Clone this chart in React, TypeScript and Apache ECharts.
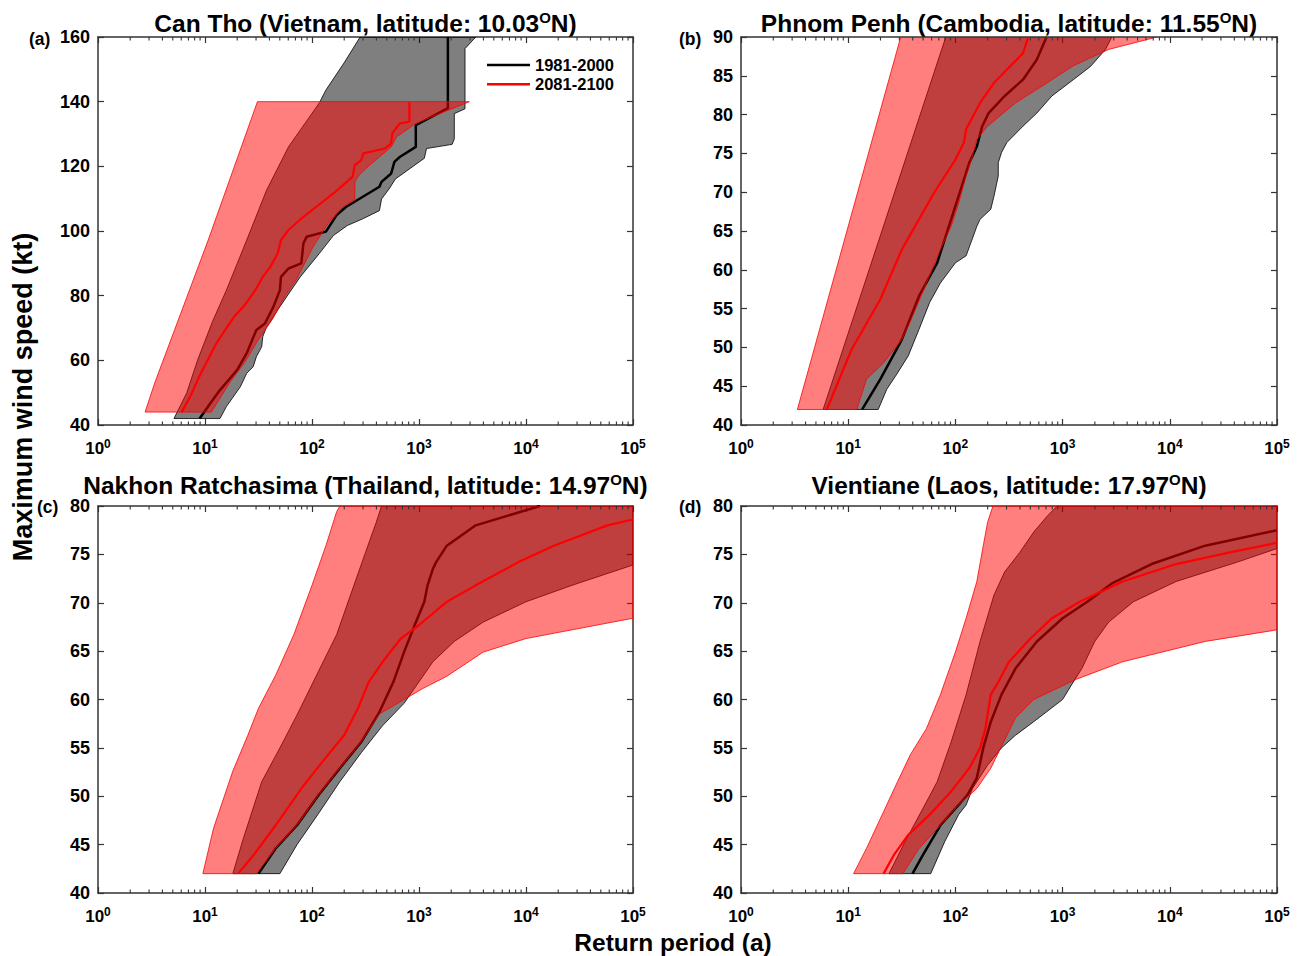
import { useEffect, useRef } from "react";
import * as echarts from "echarts";

const FONT = '"Liberation Sans", Arial, Helvetica, sans-serif';
const AXIS_COLOR = "#333333";
const HIST_LINE = "#000000";
const FUT_LINE = "#ff0000";
const HIST_FILL = "rgba(0,0,0,0.5)";
const FUT_FILL = "rgba(255,0,0,0.5)";

const SERIES_NAMES = ["1981-2000", "2081-2100"];
const X_AXIS_TITLE = "Return period (a)";
const Y_AXIS_TITLE = "Maximum wind speed (kt)";

// Each pair: [log10(return period in years), maximum wind speed (kt)]
// (a) Can Tho
const canThoHistLower = [[0.71, 42], [0.83, 50], [0.93, 60], [1.07, 72], [1.2, 81.7], [1.39, 97.2], [1.575, 112.6], [1.78, 126], [2.07, 139.7], [2.13, 143.6], [2.3, 152], [2.45, 160]];
const canThoHistUpper = [[1.14, 42], [1.2, 45.7], [1.33, 51.8], [1.39, 56], [1.45, 58], [1.48, 61.1], [1.53, 64.2], [1.54, 67.3], [1.57, 69.9], [1.7, 76.6], [1.89, 85.8], [2.07, 93.1], [2.2, 98.6], [2.33, 101.7], [2.47, 103.7], [2.63, 106.3], [2.65, 109.9], [2.72, 113], [2.78, 116.1], [3.05, 122.5], [3.07, 125.5], [3.31, 126.8], [3.33, 128.5], [3.33, 136.3], [3.43, 137.8], [3.43, 156.4], [3.53, 160]];
const canThoFutLower = [[0.44, 44], [0.53, 53], [1.03, 97.2], [1.49, 140]];
const canThoFutUpper = [[1.06, 44], [1.23, 53.1], [1.37, 59.3], [1.5, 66.5], [1.63, 72.7], [1.75, 80], [1.85, 84.8], [2.01, 95.1], [2.15, 102.3], [2.29, 107.5], [2.4, 109.6], [2.4, 115.2], [2.44, 117.3], [2.54, 120.4], [2.74, 126], [2.79, 129.1], [2.97, 133.3], [3.47, 140]];
const canThoHistMedian = [[0.95, 42], [1.05, 46.7], [1.14, 50.8], [1.3, 57], [1.39, 62.2], [1.48, 69.4], [1.56, 71.4], [1.64, 76.6], [1.7, 81.7], [1.71, 85.8], [1.78, 88.4], [1.9, 90], [1.92, 96.2], [1.95, 98.2], [2.13, 99.8], [2.23, 104.9], [2.32, 107.5], [2.63, 113.7], [2.65, 115.2], [2.74, 117.8], [2.77, 121.4], [2.82, 122.9], [2.97, 126], [2.97, 132.7], [3.27, 138], [3.27, 160]];
const canThoFutMedian = [[0.78, 43.9], [0.86, 48.7], [0.94, 54.5], [1.03, 60.4], [1.11, 65.5], [1.2, 70], [1.28, 73.8], [1.37, 77], [1.47, 81.7], [1.54, 85.8], [1.61, 88.9], [1.68, 93.1], [1.71, 97.2], [1.78, 100.3], [1.92, 104.4], [2.04, 107.5], [2.2, 111.6], [2.29, 114.2], [2.38, 116.8], [2.4, 120.4], [2.46, 121.9], [2.48, 124], [2.68, 125.5], [2.74, 127.1], [2.75, 130.2], [2.82, 133.3], [2.91, 133.8], [2.91, 140]];

// (b) Phnom Penh
const phnomPenhHistLower = [[0.766, 42], [1.91, 90]];
const phnomPenhHistUpper = [[1.28, 42], [1.36, 44.6], [1.46, 46.7], [1.56, 48.9], [1.66, 52.3], [1.76, 55.8], [1.86, 58.3], [2.0, 60.9], [2.1, 61.8], [2.2, 65.6], [2.23, 66.5], [2.33, 67.8], [2.36, 69.5], [2.4, 72.1], [2.4, 73.8], [2.43, 75.1], [2.48, 76.4], [2.63, 78.5], [2.76, 80.2], [2.9, 82.4], [3.1, 84.5], [3.26, 86.2], [3.4, 88.4], [3.46, 90]];
const phnomPenhFutLower = [[0.526, 42], [1.49, 90]];
const phnomPenhFutUpper = [[1.08, 42], [1.17, 45.9], [1.33, 48], [1.5, 51], [1.6, 54], [1.73, 58.3], [1.86, 62.6], [1.96, 65.6], [2.03, 68.6], [2.1, 72.1], [2.15, 74.2], [2.2, 76.8], [2.3, 78.5], [2.56, 81.5], [2.8, 83.6], [3.1, 86.3], [3.43, 88.4], [3.88, 90]];
const phnomPenhHistMedian = [[1.13, 42], [1.3, 45.9], [1.5, 51], [1.66, 56.6], [1.83, 60.9], [1.93, 65.2], [2.03, 69.5], [2.13, 73.8], [2.2, 75.9], [2.25, 78.5], [2.31, 80.2], [2.46, 82.4], [2.63, 84.5], [2.76, 87.1], [2.85, 90]];
const phnomPenhFutMedian = [[0.8, 42], [1.03, 49.7], [1.3, 56.2], [1.5, 62.6], [1.8, 69.9], [2.0, 74.2], [2.08, 76.4], [2.1, 78.1], [2.23, 81.5], [2.36, 84.1], [2.63, 87.9], [2.68, 90]];

// (c) Nakhon Ratchasima
const nakhonHistLower = [[1.26, 42], [1.36, 45.7], [1.53, 51.5], [1.7, 55], [1.86, 58.4], [2.06, 62.9], [2.23, 66.7], [2.36, 70.8], [2.5, 75.2], [2.6, 78.3], [2.65, 80]];
const nakhonHistUpper = [[1.7, 42], [1.86, 45], [2.06, 48.2], [2.26, 51.5], [2.46, 54.5], [2.66, 57.3], [2.86, 59.6], [3.13, 63.9], [3.33, 66], [3.6, 68], [4.0, 70.1], [4.43, 71.8], [5, 73.9], [5, 80]];
const nakhonFutLower = [[0.98, 42], [1.08, 46.7], [1.26, 52.6], [1.4, 56.3], [1.5, 59.1], [1.66, 62.5], [1.83, 66.7], [2.0, 71.8], [2.13, 75.9], [2.23, 79.4], [2.26, 80]];
const nakhonFutUpper = [[1.48, 42], [1.66, 44.6], [1.86, 47], [2.06, 50.1], [2.26, 52.9], [2.46, 55.6], [2.63, 58.5], [2.8, 59.6], [3.03, 61.1], [3.26, 62.4], [3.6, 64.9], [4.0, 66.3], [5, 68.4], [5, 80]];
const nakhonHistMedian = [[1.5, 42], [1.66, 44.6], [1.86, 47], [2.06, 50.1], [2.26, 52.9], [2.46, 55.6], [2.63, 58.7], [2.76, 61.8], [2.86, 64.9], [2.96, 67.7], [3.05, 70.1], [3.08, 71.8], [3.13, 73.5], [3.16, 74.2], [3.26, 75.9], [3.53, 78], [4.13, 80]];
const nakhonFutMedian = [[1.31, 42], [1.46, 44], [1.66, 47], [1.9, 50.8], [2.1, 53.6], [2.3, 56.3], [2.43, 59.1], [2.53, 61.8], [2.66, 63.9], [2.83, 66.3], [3.0, 67.7], [3.26, 70.1], [3.53, 71.8], [3.93, 74.2], [4.26, 75.9], [4.76, 78], [5, 78.6]];

// (d) Vientiane
const vientianeHistLower = [[1.38, 42], [1.53, 45.3], [1.7, 48.8], [1.83, 51.5], [1.96, 55.6], [2.1, 60.5], [2.23, 66], [2.36, 70.8], [2.46, 73.2], [2.6, 75.2], [2.73, 77.3], [2.86, 79], [2.95, 80]];
const vientianeHistUpper = [[1.77, 42], [1.9, 45.3], [2.03, 48.1], [2.1, 49.1], [2.16, 50.8], [2.3, 53.2], [2.43, 55], [2.56, 56.3], [2.73, 57.7], [3.0, 60], [3.11, 62], [3.18, 63.2], [3.3, 66], [3.43, 68], [3.66, 70.1], [4.06, 72.2], [4.63, 74.2], [5, 75.6], [5, 80]];
const vientianeFutLower = [[1.05, 42], [1.17, 44.6], [1.33, 48.4], [1.46, 51.5], [1.58, 54.3], [1.73, 57], [1.86, 60.5], [2.0, 64.9], [2.1, 68.4], [2.2, 72.2], [2.26, 75.9], [2.3, 78.3], [2.35, 80]];
const vientianeFutUpper = [[1.51, 42], [1.66, 44.6], [1.86, 47], [2.03, 49.1], [2.2, 50.8], [2.33, 52.9], [2.56, 58.1], [2.73, 60], [3.13, 62.1], [3.56, 63.9], [4.33, 66], [5, 67.2], [5, 80]];
const vientianeHistMedian = [[1.6, 42], [1.7, 44], [1.86, 47], [2.03, 49.1], [2.11, 50.1], [2.2, 51.9], [2.26, 55], [2.33, 57.7], [2.43, 60.5], [2.56, 63.2], [2.76, 66], [3.0, 68.4], [3.23, 70.1], [3.46, 72], [3.83, 74], [4.33, 75.9], [5, 77.5]];
const vientianeFutMedian = [[1.33, 42], [1.43, 44], [1.56, 46], [1.76, 48.1], [1.96, 50.5], [2.13, 52.9], [2.23, 55], [2.28, 57], [2.33, 60.5], [2.4, 61.8], [2.5, 63.9], [2.7, 66.3], [2.9, 68.4], [3.16, 70.1], [3.56, 72.2], [4.06, 74], [4.56, 75.2], [5, 76.2]];

const PANEL_TAGS = ["(a)", "(b)", "(c)", "(d)"];
const PLACES = ["Can Tho (Vietnam", "Phnom Penh (Cambodia", "Nakhon Ratchasima (Thailand", "Vientiane (Laos"];
const LATITUDES = ["10.03", "11.55", "14.97", "17.97"];
const Y_MAX = [160, 90, 80, 80];
const Y_STEP = [20, 5, 5, 5];
const X_MIN = 1;
const X_MAX = 100000;
const Y_MIN = 40;

const PANEL_DATA = [
  { hl: canThoHistLower, hu: canThoHistUpper, fl: canThoFutLower, fu: canThoFutUpper, hm: canThoHistMedian, fm: canThoFutMedian },
  { hl: phnomPenhHistLower, hu: phnomPenhHistUpper, fl: phnomPenhFutLower, fu: phnomPenhFutUpper, hm: phnomPenhHistMedian, fm: phnomPenhFutMedian },
  { hl: nakhonHistLower, hu: nakhonHistUpper, fl: nakhonFutLower, fu: nakhonFutUpper, hm: nakhonHistMedian, fm: nakhonFutMedian },
  { hl: vientianeHistLower, hu: vientianeHistUpper, fl: vientianeFutLower, fu: vientianeFutUpper, hm: vientianeHistMedian, fm: vientianeFutMedian },
];

const LAYOUT = [
  { left: 98, top: 37, width: 535, height: 388, titleY: 23, tagX: 29, tagY: 39 },
  { left: 741, top: 37, width: 536, height: 388, titleY: 23, tagX: 679, tagY: 39 },
  { left: 98, top: 506, width: 535, height: 387, titleY: 485, tagX: 37, tagY: 507 },
  { left: 741, top: 506, width: 536, height: 387, titleY: 485, tagX: 679, tagY: 507 },
];

const toXY = (arr: number[][]) => arr.map(([e, w]) => [Math.pow(10, e), w]);

// minor tick positions of the log axis (2..9 within each decade)
const MINOR_TICKS: number[] = [];
for (let d = 0; d < 5; d++) for (let m = 2; m <= 9; m++) MINOR_TICKS.push(m * Math.pow(10, d));

export default function App() {
  const ref = useRef<HTMLDivElement>(null);
  useEffect(() => {
    const chart = echarts.init(ref.current as HTMLDivElement, undefined, { renderer: "svg" });
    const grids: any[] = [];
    const xAxes: any[] = [];
    const yAxes: any[] = [];
    const series: any[] = [];
    const graphics: any[] = [];

    const axisLine = { show: true, onZero: false, lineStyle: { color: AXIS_COLOR, width: 1.5 } };
    const axisTick = { show: true, inside: true, length: 6, lineStyle: { color: AXIS_COLOR, width: 1.2 } };

    PANEL_DATA.forEach((p, i) => {
      const L = LAYOUT[i];
      const yMax = Y_MAX[i];
      grids.push({ left: L.left, top: L.top, width: L.width, height: L.height, containLabel: false, outerBoundsMode: "none" });
      const xBase = {
        type: "log", logBase: 10, min: X_MIN, max: X_MAX, gridIndex: i,
        axisLine, axisTick, splitLine: { show: false }, minorTick: { show: false },
      };
      xAxes.push({
        ...xBase, position: "bottom",
        axisLabel: {
          show: true, margin: 13, showMinLabel: true, showMaxLabel: true,
          formatter: (v: number) => `{b|10}{s|${Math.round(Math.log10(v))}}`,
          rich: {
            b: { fontSize: 17, fontWeight: "bold", color: "#000", lineHeight: 20, fontFamily: FONT },
            s: { fontSize: 12, fontWeight: "bold", color: "#000", lineHeight: 8, verticalAlign: "top", fontFamily: FONT },
          },
        },
      });
      xAxes.push({ ...xBase, position: "top", axisLabel: { show: false } });
      const yBase = {
        type: "value", min: Y_MIN, max: yMax, interval: Y_STEP[i], gridIndex: i,
        axisLine, axisTick, splitLine: { show: false },
      };
      yAxes.push({
        ...yBase, position: "left",
        axisLabel: { show: true, fontSize: 18, fontWeight: "bold", color: "#000", margin: 8, fontFamily: FONT },
      });
      yAxes.push({ ...yBase, position: "right", axisLabel: { show: false } });

      const xi = i * 2;
      const yi = i * 2;
      const band = (lower: number[][], upper: number[][], fill: string, stroke: string, z: number) => ({
        type: "custom", xAxisIndex: xi, yAxisIndex: yi, clip: true, silent: true, z,
        data: [[X_MIN, Y_MIN]],
        renderItem: (_params: any, api: any) => {
          const poly = toXY([...lower, ...upper.slice().reverse()]);
          const points = poly.map((pt) => api.coord(pt));
          return { type: "polygon", shape: { points }, style: { fill, stroke, lineWidth: 0.8 } };
        },
      });
      const line = (name: string, data: number[][], color: string, width: number, z: number) => ({
        type: "line", name, xAxisIndex: xi, yAxisIndex: yi, data: toXY(data),
        showSymbol: false, symbol: "none", silent: true, clip: true, z,
        lineStyle: { color, width }, itemStyle: { color },
      });
      series.push(band(p.hl, p.hu, HIST_FILL, "#000", 2));
      series.push(line(SERIES_NAMES[0], p.hm, HIST_LINE, 2.5, 3));
      series.push(band(p.fl, p.fu, FUT_FILL, "#ff0000", 4));
      series.push(line(SERIES_NAMES[1], p.fm, FUT_LINE, 2.2, 5));
      series.push({
        type: "custom", xAxisIndex: xi, yAxisIndex: yi, silent: true, clip: false, z: 6,
        data: MINOR_TICKS.map((v) => [v, Y_MIN]),
        renderItem: (_params: any, api: any) => {
          const b = api.coord([api.value(0), Y_MIN]);
          const t = api.coord([api.value(0), yMax]);
          return {
            type: "group",
            children: [
              { type: "line", shape: { x1: b[0], y1: b[1], x2: b[0], y2: b[1] - 3.5 }, style: { stroke: AXIS_COLOR, lineWidth: 1.1 } },
              { type: "line", shape: { x1: t[0], y1: t[1], x2: t[0], y2: t[1] + 3.5 }, style: { stroke: AXIS_COLOR, lineWidth: 1.1 } },
            ],
          };
        },
      });

      graphics.push({
        type: "text", x: L.left + L.width / 2, y: L.titleY, silent: true,
        style: {
          text: `{t|${PLACES[i]}, latitude: ${LATITUDES[i]}}{s|O}{t|N)}`,
          align: "center", verticalAlign: "middle",
          rich: {
            t: { fontSize: 24.5, fontWeight: "bold", fontFamily: FONT, fill: "#000", lineHeight: 26 },
            s: { fontSize: 15, fontWeight: "bold", fontFamily: FONT, fill: "#000", lineHeight: 12, verticalAlign: "top" },
          },
        },
      });
      graphics.push({
        type: "text", x: L.tagX, y: L.tagY, silent: true,
        style: { text: PANEL_TAGS[i], fontSize: 17.5, fontWeight: "bold", fontFamily: FONT, fill: "#000", align: "left", verticalAlign: "middle" },
      });
    });

    graphics.push({
      type: "text", x: 23, y: 397, rotation: Math.PI / 2, silent: true,
      style: { text: Y_AXIS_TITLE, fontSize: 27, fontWeight: "bold", fontFamily: FONT, fill: "#000", align: "center", verticalAlign: "middle" },
    });
    graphics.push({
      type: "text", x: 673, y: 942, silent: true,
      style: { text: X_AXIS_TITLE, fontSize: 24.5, fontWeight: "bold", fontFamily: FONT, fill: "#000", align: "center", verticalAlign: "middle" },
    });

    chart.setOption({
      animation: false,
      textStyle: { fontFamily: FONT },
      grid: grids,
      xAxis: xAxes,
      yAxis: yAxes,
      legend: {
        data: SERIES_NAMES, orient: "vertical", left: 487, top: 55.5, padding: 0,
        icon: "rect", itemWidth: 43, itemHeight: 2.5, itemGap: 0.3, selectedMode: false,
        textStyle: { fontSize: 16.5, fontWeight: "bold", color: "#000", lineHeight: 19, fontFamily: FONT },
      },
      series,
      graphic: graphics,
    });
    return () => chart.dispose();
  }, []);
  return <div ref={ref} style={{ position: "absolute", left: 0, top: 0, width: 1300, height: 956, background: "#fff" }} />;
}
